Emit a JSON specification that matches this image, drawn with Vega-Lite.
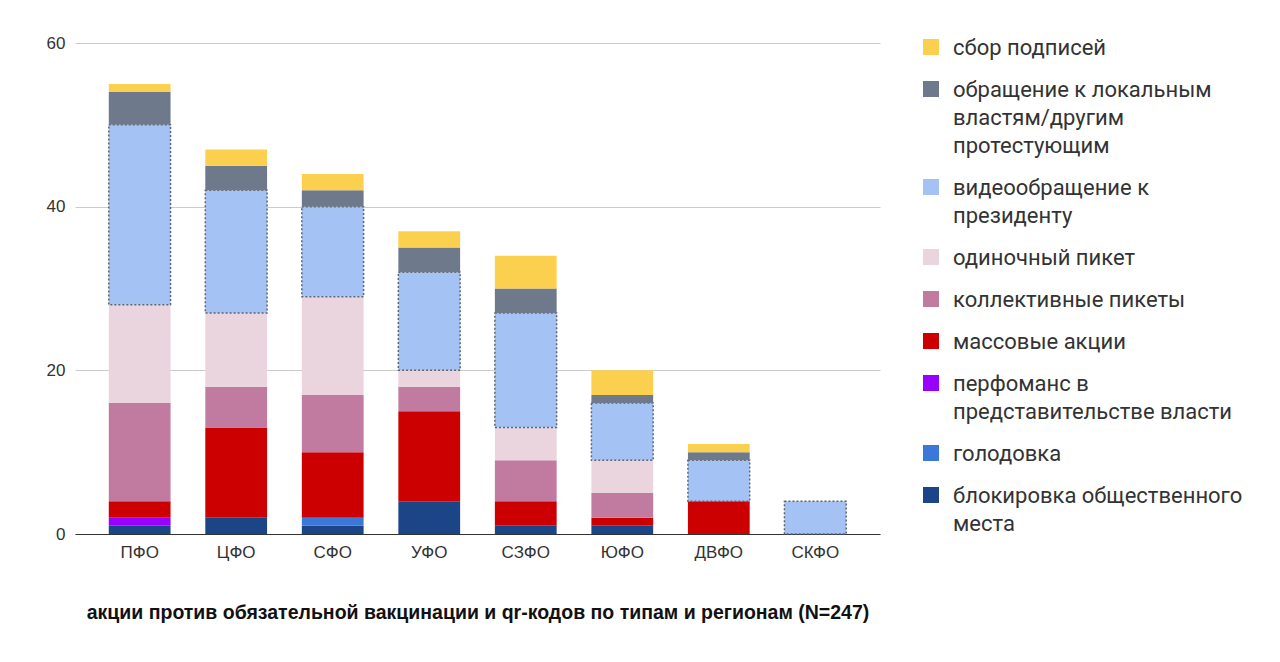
{
  "$schema": "https://vega.github.io/schema/vega-lite/v6.json",
  "autosize": "none",
  "width": 805,
  "height": 491,
  "padding": {"left": 75, "top": 43, "right": 400, "bottom": 128},
  "background": "white",
  "data": {
    "values": [
      {"region": "ПФО", "type": "блокировка общественного места", "n": 1},
      {"region": "ПФО", "type": "перфоманс в представительстве власти", "n": 1},
      {"region": "ПФО", "type": "массовые акции", "n": 2},
      {"region": "ПФО", "type": "коллективные пикеты", "n": 12},
      {"region": "ПФО", "type": "одиночный пикет", "n": 12},
      {"region": "ПФО", "type": "видеообращение к президенту", "n": 22},
      {"region": "ПФО", "type": "обращение к локальным властям/другим протестующим", "n": 4},
      {"region": "ПФО", "type": "сбор подписей", "n": 1},
      {"region": "ЦФО", "type": "блокировка общественного места", "n": 2},
      {"region": "ЦФО", "type": "массовые акции", "n": 11},
      {"region": "ЦФО", "type": "коллективные пикеты", "n": 5},
      {"region": "ЦФО", "type": "одиночный пикет", "n": 9},
      {"region": "ЦФО", "type": "видеообращение к президенту", "n": 15},
      {"region": "ЦФО", "type": "обращение к локальным властям/другим протестующим", "n": 3},
      {"region": "ЦФО", "type": "сбор подписей", "n": 2},
      {"region": "СФО", "type": "блокировка общественного места", "n": 1},
      {"region": "СФО", "type": "голодовка", "n": 1},
      {"region": "СФО", "type": "массовые акции", "n": 8},
      {"region": "СФО", "type": "коллективные пикеты", "n": 7},
      {"region": "СФО", "type": "одиночный пикет", "n": 12},
      {"region": "СФО", "type": "видеообращение к президенту", "n": 11},
      {"region": "СФО", "type": "обращение к локальным властям/другим протестующим", "n": 2},
      {"region": "СФО", "type": "сбор подписей", "n": 2},
      {"region": "УФО", "type": "блокировка общественного места", "n": 4},
      {"region": "УФО", "type": "массовые акции", "n": 11},
      {"region": "УФО", "type": "коллективные пикеты", "n": 3},
      {"region": "УФО", "type": "одиночный пикет", "n": 2},
      {"region": "УФО", "type": "видеообращение к президенту", "n": 12},
      {"region": "УФО", "type": "обращение к локальным властям/другим протестующим", "n": 3},
      {"region": "УФО", "type": "сбор подписей", "n": 2},
      {"region": "СЗФО", "type": "блокировка общественного места", "n": 1},
      {"region": "СЗФО", "type": "массовые акции", "n": 3},
      {"region": "СЗФО", "type": "коллективные пикеты", "n": 5},
      {"region": "СЗФО", "type": "одиночный пикет", "n": 4},
      {"region": "СЗФО", "type": "видеообращение к президенту", "n": 14},
      {"region": "СЗФО", "type": "обращение к локальным властям/другим протестующим", "n": 3},
      {"region": "СЗФО", "type": "сбор подписей", "n": 4},
      {"region": "ЮФО", "type": "блокировка общественного места", "n": 1},
      {"region": "ЮФО", "type": "массовые акции", "n": 1},
      {"region": "ЮФО", "type": "коллективные пикеты", "n": 3},
      {"region": "ЮФО", "type": "одиночный пикет", "n": 4},
      {"region": "ЮФО", "type": "видеообращение к президенту", "n": 7},
      {"region": "ЮФО", "type": "обращение к локальным властям/другим протестующим", "n": 1},
      {"region": "ЮФО", "type": "сбор подписей", "n": 3},
      {"region": "ДВФО", "type": "массовые акции", "n": 4},
      {"region": "ДВФО", "type": "видеообращение к президенту", "n": 5},
      {"region": "ДВФО", "type": "обращение к локальным властям/другим протестующим", "n": 1},
      {"region": "ДВФО", "type": "сбор подписей", "n": 1},
      {"region": "СКФО", "type": "видеообращение к президенту", "n": 4}
    ]
  },
  "transform": [
    {"calculate": "indexof(['сбор подписей', 'обращение к локальным властям/другим протестующим', 'видеообращение к президенту', 'одиночный пикет', 'коллективные пикеты', 'массовые акции', 'перфоманс в представительстве власти', 'голодовка', 'блокировка общественного места'], datum.type)", "as": "k"}
  ],
  "mark": {"type": "bar"},
  "encoding": {
    "x": {
      "field": "region",
      "type": "nominal",
      "sort": ["ПФО", "ЦФО", "СФО", "УФО", "СЗФО", "ЮФО", "ДВФО", "СКФО"],
      "scale": {"paddingInner": 0.36, "paddingOuter": 0.35},
      "axis": {
        "title": "акции против обязательной вакцинации и qr-кодов по типам и регионам (N=247)",
        "titleFont": "Liberation Sans",
        "titleFontSize": 19.5,
        "titleFontWeight": "bold",
        "titleColor": "#111111",
        "titlePadding": 43,
        "labelAngle": 0,
        "labelFont": "Liberation Sans",
        "labelFontSize": 17,
        "labelColor": "#333333",
        "labelPadding": 10,
        "ticks": false,
        "domainColor": "#333333",
        "domainWidth": 1.2
      }
    },
    "y": {
      "field": "n",
      "type": "quantitative",
      "stack": "zero",
      "scale": {"domain": [0, 60]},
      "axis": {
        "title": null,
        "values": [0, 20, 40, 60],
        "labelFont": "Liberation Sans",
        "labelFontSize": 17,
        "labelColor": "#333333",
        "labelPadding": 10,
        "ticks": false,
        "domain": false,
        "gridColor": "#cccccc"
      }
    },
    "order": {"field": "k", "type": "quantitative", "sort": "descending"},
    "color": {
      "field": "type",
      "type": "nominal",
      "scale": {
        "domain": ["сбор подписей", "обращение к локальным властям/другим протестующим", "видеообращение к президенту", "одиночный пикет", "коллективные пикеты", "массовые акции", "перфоманс в представительстве власти", "голодовка", "блокировка общественного места"],
        "range": ["#fcd04f", "#6e7a8c", "#a4c2f4", "#ead5de", "#c27ba0", "#cc0000", "#9900ff", "#3c78d8", "#1c4587"]
      },
      "legend": {
        "title": null,
        "orient": "none",
        "legendX": 845,
        "legendY": -16,
        "symbolType": "M-1,0.125H1V2.125H-1Z",
        "symbolSize": 256,
        "symbolStrokeWidth": 0,
        "labelFont": "Roboto",
        "labelFontSize": 22,
        "labelColor": "#333333",
        "labelOffset": 11,
        "labelLimit": 400,
        "labelBaseline": "top",
        "rowPadding": 10,
        "labelExpr": "datum.label == 'обращение к локальным властям/другим протестующим' ? ['обращение к локальным', 'властям/другим', 'протестующим'] : datum.label == 'видеообращение к президенту' ? ['видеообращение к', 'президенту'] : datum.label == 'перфоманс в представительстве власти' ? ['перфоманс в', 'представительстве власти'] : datum.label == 'блокировка общественного места' ? ['блокировка общественного', 'места'] : datum.label"
      }
    },
    "stroke": {
      "condition": {"test": "datum.type == 'видеообращение к президенту'", "value": "#5f6670"},
      "value": null
    },
    "strokeDash": {
      "condition": {"test": "datum.type == 'видеообращение к президенту'", "value": [2, 2]},
      "value": [1, 0]
    },
    "strokeWidth": {
      "condition": {"test": "datum.type == 'видеообращение к президенту'", "value": 1.5},
      "value": 0
    }
  },
  "config": {
    "view": {"stroke": null},
    "style": {"guide-label": {"lineHeight": 28}}
  }
}
